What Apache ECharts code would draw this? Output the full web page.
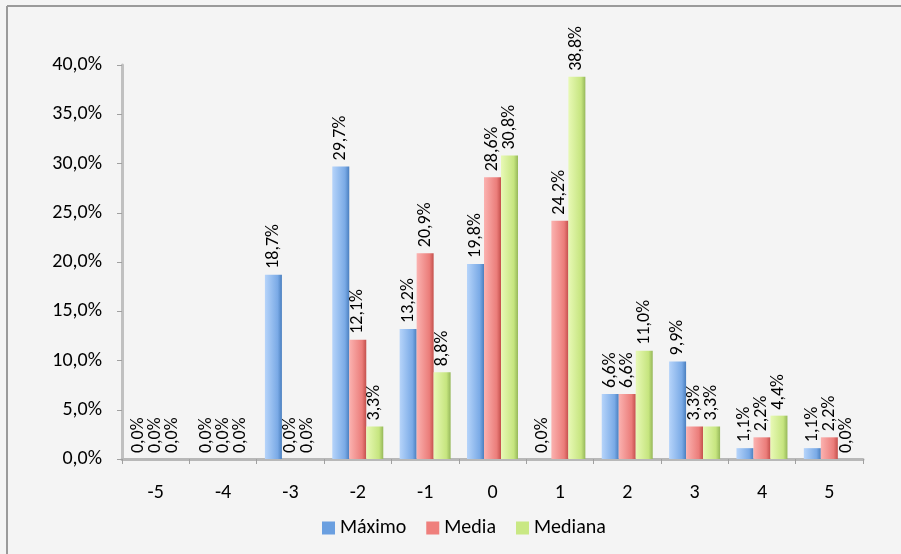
<!DOCTYPE html>
<html>
<head>
<meta charset="utf-8">
<script src="https://cdn.jsdelivr.net/npm/echarts@6/dist/echarts.min.js"></script>
<style>
html,body{margin:0;padding:0;background:#f4f4f4;}
#chart{width:901px;height:554px;}
</style>
</head>
<body>
<div id="chart"></div>
<script>
const categories = ['-5','-4','-3','-2','-1','0','1','2','3','4','5'];
const maximo  = [0.0, 0.0, 18.7, 29.7, 13.2, 19.8, 0.0, 6.6, 9.9, 1.1, 1.1];
const media   = [0.0, 0.0, 0.0, 12.1, 20.9, 28.6, 24.2, 6.6, 3.3, 2.2, 2.2];
const mediana = [0.0, 0.0, 0.0, 3.3, 8.8, 30.8, 38.8, 11.0, 3.3, 4.4, 0.0];
const seriesNames = ['Máximo', 'Media', 'Mediana'];
const yTicks = [0, 5, 10, 15, 20, 25, 30, 35, 40];

const FONT = 'Carlito, "Liberation Sans", "Noto Sans", sans-serif';
const fmt = v => v.toFixed(1).replace('.', ',') + '%';

function grad(c1, c2, c3) {
  return new echarts.graphic.LinearGradient(0, 0, 1, 0, [
    {offset: 0, color: c1}, {offset: 0.75, color: c2}, {offset: 1, color: c3}
  ]);
}
const colors = [
  {fill: grad('#b6d4fa', '#7aaae6', '#4a7fbf'), legend: '#6a9fe0'},
  {fill: grad('#fbb2b0', '#eb7d7a', '#c4504c'), legend: '#ef7f7c'},
  {fill: grad('#e8f9b6', '#c6e57f', '#96b85a'), legend: '#c9e884'}
];

function mkSeries(name, data, i) {
  return {
    name: name,
    type: 'bar',
    data: data,
    barWidth: 17,
    barGap: '0%',
    itemStyle: {color: colors[i].fill},
    label: {
      show: true,
      position: 'top',
      rotate: 90,
      align: 'left',
      verticalAlign: 'middle',
      distance: 6,
      color: '#000',
      fontFamily: FONT,
      fontSize: 18,
      formatter: p => fmt(p.value)
    }
  };
}

const chart = echarts.init(document.getElementById('chart'), null, {renderer: 'canvas'});
chart.setOption({
  backgroundColor: '#f4f4f4',
  animation: false,
  textStyle: {fontFamily: FONT},
  graphic: [
    {type: 'line', shape: {x1: 7, y1: 6, x2: 7, y2: 554}, style: {stroke: '#9a9a9a', lineWidth: 2}},
    {type: 'line', shape: {x1: 7, y1: 6, x2: 901, y2: 6}, style: {stroke: '#9a9a9a', lineWidth: 2}}
  ],
  grid: {left: 122, right: 38, top: 65, bottom: 95},
  legend: {
    data: seriesNames.map((n, i) => ({name: n, itemStyle: {color: colors[i].legend}})),
    bottom: 11,
    left: 317,
    icon: 'rect',
    itemWidth: 13,
    itemHeight: 13,
    itemGap: 20,
    itemTextGap: 6,
    textStyle: {fontFamily: FONT, fontSize: 20, color: '#000'}
  },
  xAxis: {
    type: 'category',
    data: categories,
    axisLine: {lineStyle: {color: '#b8b8b8', width: 3}},
    axisTick: {show: true, alignWithLabel: false, length: 5, lineStyle: {color: '#a0a0a0'}},
    axisLabel: {color: '#000', fontSize: 20, fontFamily: FONT, margin: 24}
  },
  yAxis: {
    type: 'value',
    min: 0,
    max: 40,
    interval: 5,
    splitLine: {show: false},
    axisLine: {show: true, lineStyle: {color: '#c0c0c0', width: 3}},
    axisTick: {show: true, length: 5, lineStyle: {color: '#a0a0a0'}},
    axisLabel: {
      color: '#000', fontSize: 20, fontFamily: FONT, margin: 20,
      formatter: v => yTicks.includes(v) ? fmt(v) : ''
    }
  },
  series: [
    mkSeries(seriesNames[0], maximo, 0),
    mkSeries(seriesNames[1], media, 1),
    mkSeries(seriesNames[2], mediana, 2)
  ]
});
</script>
</body>
</html>
